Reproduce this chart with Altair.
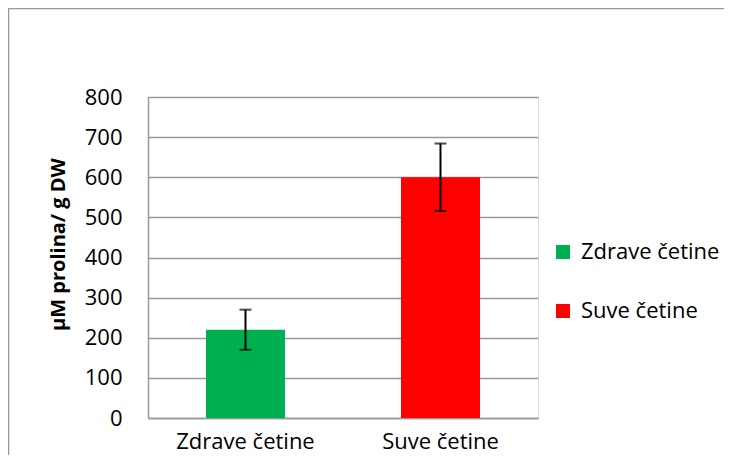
import altair as alt
import pandas as pd

categories = ["Zdrave četine", "Suve četine"]
values = [220, 600]
errors = [50, 84]
colors = ["#00B050", "#FF0000"]
y_ticks = [0, 100, 200, 300, 400, 500, 600, 700, 800]

df = pd.DataFrame({
    "cat": categories,
    "val": values,
    "lo": [v - e for v, e in zip(values, errors)],
    "hi": [v + e for v, e in zip(values, errors)],
})

FONT = "Open Sans"

x_enc = alt.X("cat:N", sort=categories,
              scale=alt.Scale(paddingInner=0, paddingOuter=0),
              axis=alt.Axis(title=None, labelAngle=0, labelFontSize=22, labelColor="black",
                            labelFont=FONT, ticks=False, labelPadding=13,
                            domainColor="#999999", domainWidth=1.5, grid=False))
y_scale = alt.Scale(domain=[0, 800], nice=False)

base = alt.Chart(df)

bars = base.mark_bar(width=79).encode(
    x=x_enc,
    y=alt.Y("val:Q", scale=y_scale,
            axis=alt.Axis(values=y_ticks, title="µM prolina/ g DW", titleFont=FONT,
                          titleFontSize=20, titleFontWeight="bold", titleColor="black",
                          titleAngle=270, titleX=-90, titleY=147, titleAlign="center",
                          titleBaseline="middle",
                          labelFontSize=22, labelColor="black", labelFont=FONT,
                          ticks=False, labelPadding=26, domainColor="#999999",
                          domainWidth=1.5, gridColor="#999999", gridWidth=1.5)),
    color=alt.Color("cat:N", sort=categories,
                    scale=alt.Scale(domain=categories, range=colors),
                    legend=alt.Legend(title=None, orient="none", legendX=404, legendY=144,
                                      symbolType="square", symbolSize=196,
                                      symbolStrokeWidth=0, labelFontSize=22,
                                      labelFont=FONT, labelColor="black", labelOffset=7,
                                      rowPadding=37, padding=0)),
)

rule = base.mark_rule(color="black", strokeWidth=2).encode(
    x=alt.X("cat:N", sort=categories), y=alt.Y("lo:Q", scale=y_scale), y2="hi:Q")
cap_lo = base.mark_tick(color="black", thickness=2, size=12).encode(
    x=alt.X("cat:N", sort=categories), y=alt.Y("lo:Q", scale=y_scale))
cap_hi = base.mark_tick(color="black", thickness=2, size=12).encode(
    x=alt.X("cat:N", sort=categories), y=alt.Y("hi:Q", scale=y_scale))

border = alt.Chart(pd.DataFrame({"a": [0]})).mark_rect(
    fill=None, stroke="#999999", strokeWidth=1.5).encode(
    x=alt.value(-139.5), x2=alt.value(800), y=alt.value(-88.5), y2=alt.value(600))

chart = alt.layer(border, bars, rule, cap_lo, cap_hi).properties(
    width=390, height=321,
    autosize=alt.AutoSizeParams(type="none"),
    padding={"left": 140, "top": 89, "right": 186, "bottom": 37},
).configure_view(stroke=None).configure(font=FONT)

chart.save("out.html", embed_options={"renderer": "svg", "actions": False})
